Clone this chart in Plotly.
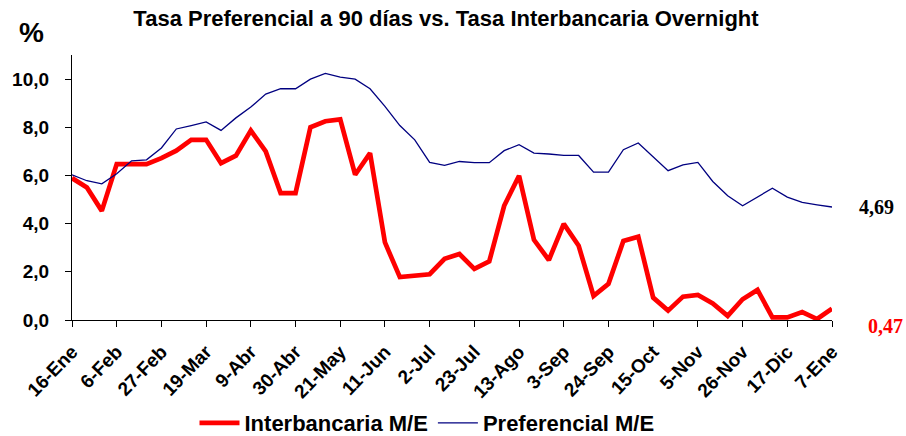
import plotly.graph_objects as go
import pandas as pd

# Weekly observations, 16-Ene-2008 .. 7-Ene-2009
week_start = "2008-01-16"
n_weeks = 52

interbancaria = [5.89, 5.50, 4.53, 6.47, 6.47, 6.47, 6.72, 7.03, 7.48, 7.48,
                 6.51, 6.82, 7.86, 7.00, 5.27, 5.27, 8.00, 8.25, 8.33, 6.03,
                 6.93, 3.22, 1.78, 1.83, 1.90, 2.54, 2.74, 2.12, 2.43, 4.74,
                 5.99, 3.33, 2.49, 3.99, 3.08, 1.00, 1.50, 3.28, 3.46, 0.93,
                 0.39, 0.97, 1.04, 0.69, 0.17, 0.86, 1.25, 0.11, 0.11, 0.33,
                 0.04, 0.47]

preferencial = [6.03, 5.78, 5.65, 6.07, 6.61, 6.65, 7.14, 7.93, 8.07, 8.22,
                7.87, 8.39, 8.84, 9.38, 9.60, 9.60, 10.00, 10.24, 10.08, 10.00,
                9.60, 8.87, 8.07, 7.48, 6.54, 6.42, 6.58, 6.53, 6.53, 7.03,
                7.28, 6.93, 6.89, 6.83, 6.83, 6.14, 6.14, 7.07, 7.35, 6.76,
                6.20, 6.44, 6.54, 5.75, 5.16, 4.74, 5.10, 5.47, 5.10, 4.88,
                4.78, 4.69]

x_tick_labels = ["16-Ene", "6-Feb", "27-Feb", "19-Mar", "9-Abr", "30-Abr",
                 "21-May", "11-Jun", "2-Jul", "23-Jul", "13-Ago", "3-Sep",
                 "24-Sep", "15-Oct", "5-Nov", "26-Nov", "17-Dic", "7-Ene"]

y_tick_vals = [0, 2, 4, 6, 8, 10]
y_tick_labels = ["0,0", "2,0", "4,0", "6,0", "8,0", "10,0"]

last_pref_label = "4,69"
last_inter_label = "0,47"

dates = pd.date_range(week_start, periods=n_weeks, freq="7D")
tick_dates = list(dates[::3])

ARIAL = "Liberation Sans, Arial, sans-serif"
TIMES = "Liberation Serif, Times New Roman, serif"

fig = go.Figure()
fig.add_trace(go.Scatter(x=dates, y=interbancaria, mode="lines",
                         name="<b>Interbancaria M/E</b>",
                         line=dict(color="#FF0000", width=4.7)))
fig.add_trace(go.Scatter(x=dates, y=preferencial, mode="lines",
                         name="<b>Preferencial M/E</b>",
                         line=dict(color="#000080", width=1.3)))

fig.update_layout(
    width=906, height=436,
    margin=dict(l=72, r=74, t=55, b=116, autoexpand=False),
    paper_bgcolor="white", plot_bgcolor="white",
    title=dict(text="<b>Tasa Preferencial a 90 días vs. Tasa Interbancaria Overnight</b>",
               x=446 / 906, xref="container", xanchor="center",
               y=1 - 18 / 436, yref="container", yanchor="middle",
               font=dict(family=ARIAL, size=22, color="black")),
    showlegend=True,
    legend=dict(orientation="h", xref="container", yref="container",
                x=427 / 906, xanchor="center", y=13 / 436, yanchor="middle",
                font=dict(family=ARIAL, size=22, color="black"),
                itemwidth=40, bgcolor="rgba(0,0,0,0)"),
    font=dict(family=ARIAL, color="black"),
)

fig.update_xaxes(
    range=[dates[0], dates[-1]],
    tickmode="array", tickvals=tick_dates,
    ticktext=["<b>%s</b>" % t for t in x_tick_labels],
    tickangle=-46, tickfont=dict(family=ARIAL, size=19, color="black"),
    ticks="outside", ticklen=6, tickcolor="black", tickwidth=1,
    showline=True, linecolor="black", linewidth=1.3,
    showgrid=False, zeroline=False, ticklabelstandoff=6,
)
fig.update_yaxes(
    range=[0, 11],
    tickmode="array", tickvals=y_tick_vals,
    ticktext=["<b>%s</b>" % t for t in y_tick_labels],
    tickfont=dict(family=ARIAL, size=19, color="black"),
    ticks="outside", ticklen=6, tickcolor="black", tickwidth=1,
    showline=True, linecolor="black", linewidth=1.3,
    showgrid=False, zeroline=False, ticklabelstandoff=12,
)

fig.add_annotation(text="<b>%</b>", xref="paper", yref="paper",
                   x=(31 - 72) / 760, y=(320 - 32) / 265,
                   showarrow=False, xanchor="center", yanchor="middle",
                   font=dict(family=ARIAL, size=28, color="black"))
fig.add_annotation(text="<b>%s</b>" % last_pref_label, xref="paper", yref="y",
                   x=(876 - 72) / 760, y=preferencial[-1],
                   showarrow=False, xanchor="center", yanchor="middle",
                   font=dict(family=TIMES, size=20, color="black"))
fig.add_annotation(text="<b>%s</b>" % last_inter_label, xref="paper", yref="paper",
                   x=(885 - 72) / 760, y=(320 - 326) / 265,
                   showarrow=False, xanchor="center", yanchor="middle",
                   font=dict(family=TIMES, size=20, color="#FF0000"))

fig.write_html("out.html",
               config={"displayModeBar": False},
               post_script="document.body.style.margin='0';document.body.style.padding='0';")
